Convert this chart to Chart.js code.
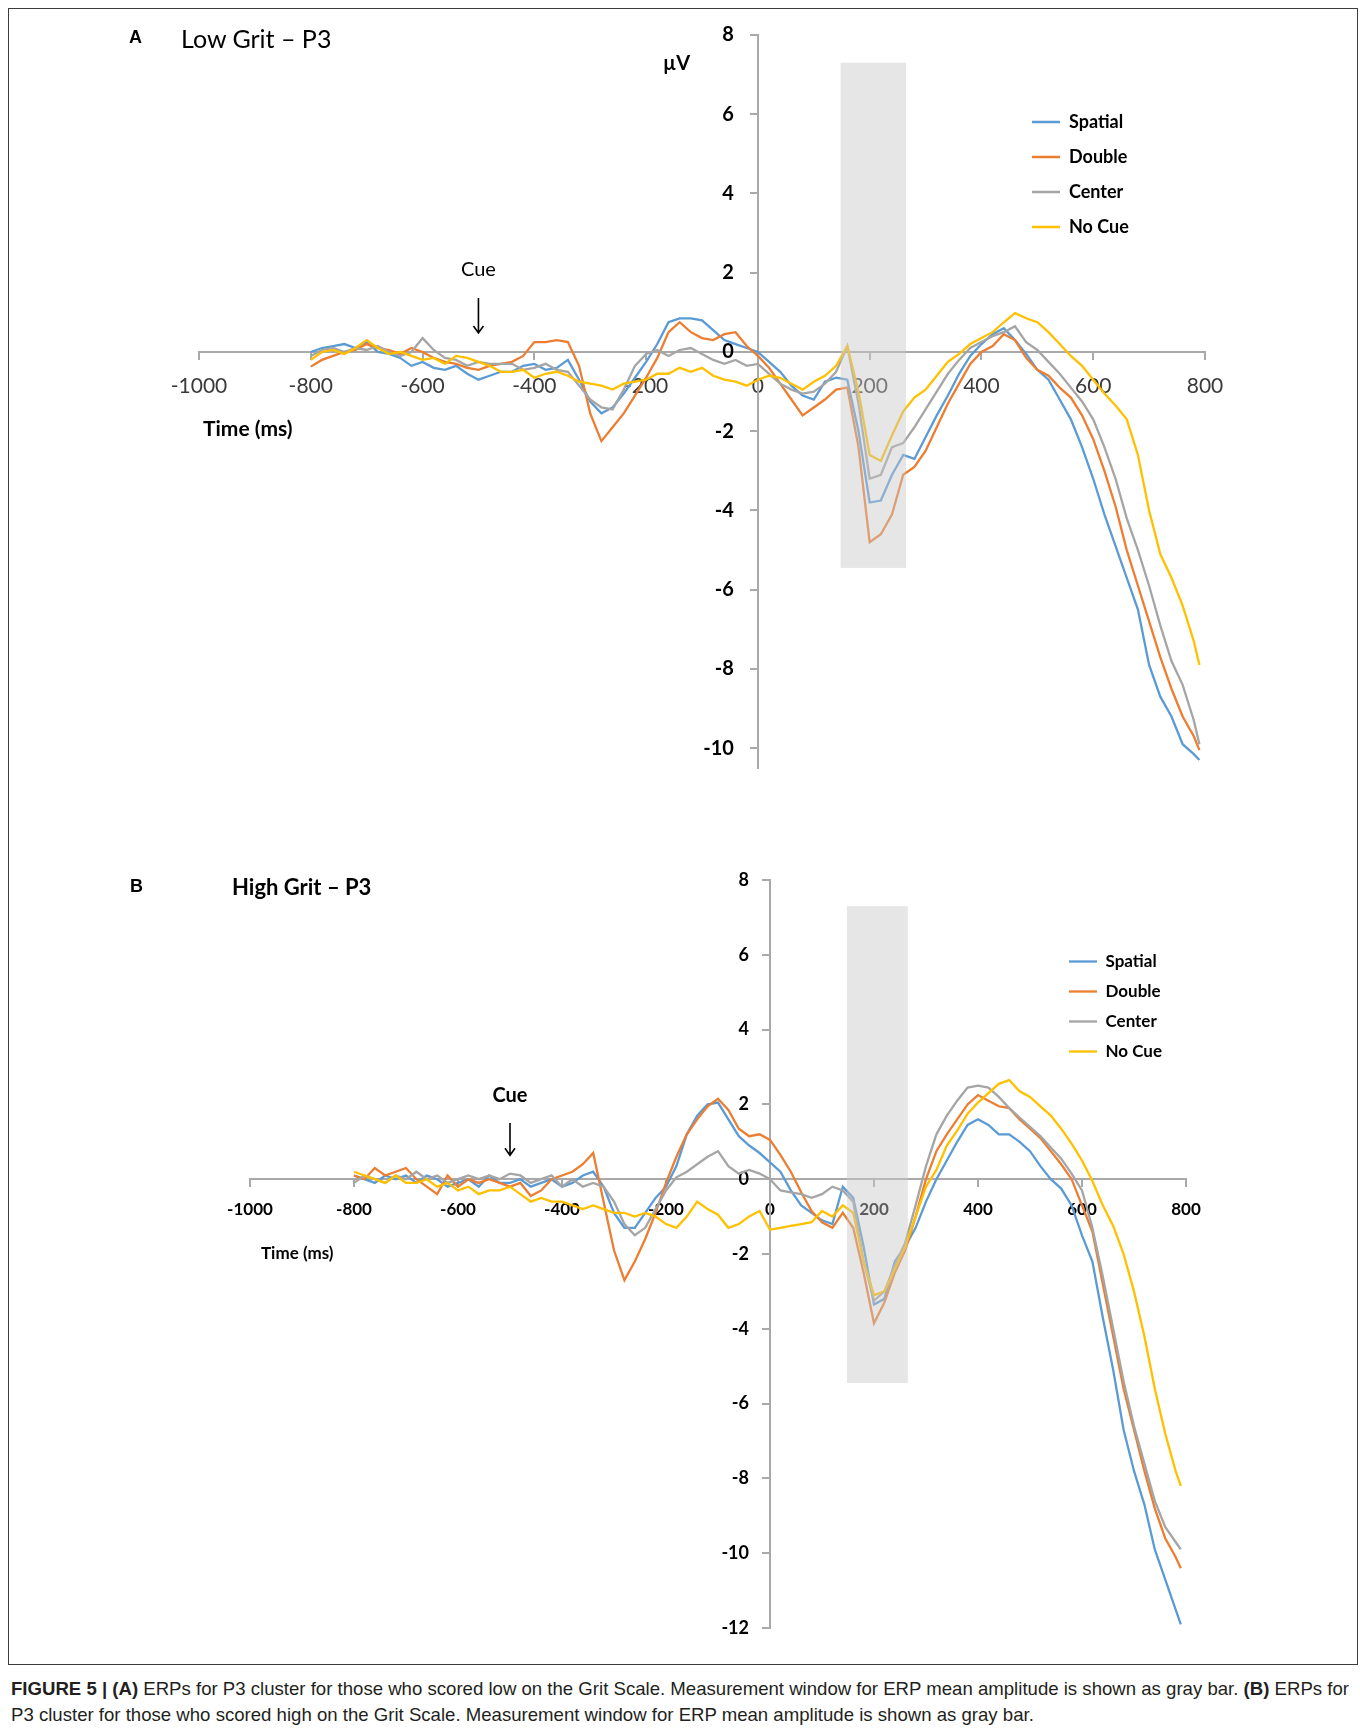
<!DOCTYPE html>
<html>
<head>
<meta charset="utf-8">
<script src="https://cdn.jsdelivr.net/npm/chart.js@4.4.1/dist/chart.umd.min.js"></script>
<style>
  html, body { margin: 0; padding: 0; background: #fff; }
  #page { position: relative; width: 1360px; height: 1733px; overflow: hidden; font-family: Lato, "Open Sans", sans-serif; color: #000; }
  #frame { position: absolute; left: 8px; top: 8px; width: 1350px; height: 1657px; border: 1px solid #3c3c3c; box-sizing: border-box; }
  .t { position: absolute; white-space: nowrap; line-height: 1.2; transform: translateY(-50%); }
  #cvA { position: absolute; left: 0; top: 0; }
  #cvB { position: absolute; left: 0; top: 840px; }
  #caption { position: absolute; left: 11px; top: 1676px; font-family: "Liberation Sans", Arial, sans-serif; font-size: 18.6px; line-height: 26px; color: #231f20; white-space: nowrap; }
</style>
</head>
<body>
<div id="page">
  <div id="frame"></div>
  <canvas id="cvA" width="1360" height="840"></canvas>
  <canvas id="cvB" width="1360" height="820"></canvas>

  <div class="t" style="left:129px;top:38px;font-family:'Liberation Sans',Arial,sans-serif;font-weight:bold;font-size:18px;">A</div>
  <div class="t" style="left:181px;top:38px;font-size:25px;">Low Grit – P3</div>
  <div class="t" style="left:663px;top:62px;font-size:20px;font-weight:bold;">µV</div>
  <div class="t" style="left:203px;top:428px;font-size:21px;font-weight:bold;">Time (ms)</div>

  <div class="t" style="left:130px;top:887px;font-family:'Liberation Sans',Arial,sans-serif;font-weight:bold;font-size:18px;">B</div>
  <div class="t" style="left:232px;top:887px;font-size:22px;font-weight:bold;">High Grit – P3</div>
  <div class="t" style="left:261px;top:1253px;font-size:17px;font-weight:bold;">Time (ms)</div>

  <div id="caption"><b>FIGURE 5 | (A)</b> ERPs for P3 cluster for those who scored low on the Grit Scale. Measurement window for ERP mean amplitude is shown as gray bar. <b>(B)</b> ERPs for<br>P3 cluster for those who scored high on the Grit Scale. Measurement window for ERP mean amplitude is shown as gray bar.</div>
</div>

<script>
// Sample times (ms, relative to target onset)
const times = [
  -800,-780,-760,-740,-720,-700,-680,-660,-640,-620,
  -600,-580,-560,-540,-520,-500,-480,-460,-440,-420,
  -400,-380,-360,-340,-320,-300,-280,-260,-240,-220,
  -200,-180,-160,-140,-120,-100,-80,-60,-40,-20,
  0,20,40,60,80,100,120,140,160,180,
  200,220,240,260,280,300,320,340,360,380,
  400,420,440,460,480,500,520,540,560,580,
  600,620,640,660,680,700,720,740,760,780,
  790
];

const seriesNames = ['Spatial', 'Double', 'Center', 'No Cue'];
const seriesColors = ['#5B9BD5', '#ED7D31', '#A5A5A5', '#FFC000'];

// Low Grit group, P3 cluster (µV)
const lowSpatial = [
  0.0, 0.1, 0.15, 0.2, 0.1, 0.25, 0.0, -0.05, -0.15, -0.35,
  -0.25, -0.4, -0.45, -0.35, -0.55, -0.7, -0.6, -0.5, -0.5, -0.35,
  -0.3, -0.45, -0.4, -0.2, -0.7, -1.25, -1.55, -1.4, -1.05, -0.65,
  -0.25, 0.2, 0.75, 0.85, 0.85, 0.8, 0.55, 0.3, 0.2, 0.1,
  0.0, -0.25, -0.5, -0.85, -1.1, -1.2, -0.75, -0.65, -0.7, -2.0,
  -3.8, -3.75, -3.1, -2.6, -2.7, -2.15, -1.6, -1.1, -0.55, -0.1,
  0.2, 0.45, 0.6, 0.3, -0.05, -0.45, -0.7, -1.2, -1.7, -2.4,
  -3.2, -4.1, -4.9, -5.7, -6.5, -7.9, -8.7, -9.2, -9.9, -10.15,
  -10.3
];
const lowDouble = [
  -0.37, -0.2, -0.1, 0.0, 0.05, 0.2, 0.1, 0.05, -0.05, 0.1,
  0.0, -0.15, -0.25, -0.3, -0.4, -0.45, -0.35, -0.3, -0.25, -0.1,
  0.25, 0.25, 0.3, 0.25, -0.35, -1.55, -2.25, -1.9, -1.55, -1.1,
  -0.65, -0.15, 0.5, 0.75, 0.5, 0.35, 0.3, 0.45, 0.5, 0.15,
  -0.1, -0.4, -0.8, -1.2, -1.6, -1.4, -1.2, -0.95, -0.9, -2.4,
  -4.8, -4.6, -4.1, -3.1, -2.9, -2.5, -1.9, -1.3, -0.8, -0.3,
  0.0, 0.15, 0.45, 0.3, -0.15, -0.45, -0.6, -0.9, -1.15, -1.6,
  -2.2, -3.0, -3.9, -5.0, -5.9, -6.8, -7.7, -8.5, -9.2, -9.7,
  -10.05
];
const lowCenter = [
  -0.1, 0.05, 0.1, 0.0, 0.1, 0.05, 0.15, 0.0, -0.1, 0.0,
  0.35, 0.05, -0.15, -0.2, -0.35, -0.25, -0.3, -0.3, -0.3, -0.45,
  -0.4, -0.3, -0.45, -0.5, -0.85, -1.2, -1.4, -1.45, -0.95, -0.35,
  -0.05, 0.05, -0.1, 0.05, 0.1, -0.05, -0.2, -0.3, -0.2, -0.35,
  -0.3, -0.55, -0.8, -0.95, -1.05, -1.0, -0.8, -0.5, 0.15, -1.3,
  -3.2, -3.1, -2.4, -2.3, -1.9, -1.45, -1.0, -0.55, -0.2, 0.1,
  0.25, 0.4, 0.5, 0.65, 0.25, 0.05, -0.25, -0.55, -0.9, -1.25,
  -1.7, -2.4, -3.2, -4.2, -5.0, -5.9, -6.9, -7.8, -8.4, -9.3,
  -9.9
];
const lowNoCue = [
  -0.2, 0.0, 0.05, -0.05, 0.1, 0.3, 0.1, -0.05, 0.0, -0.1,
  -0.2, -0.15, -0.3, -0.1, -0.15, -0.25, -0.35, -0.5, -0.5, -0.45,
  -0.65, -0.55, -0.5, -0.6, -0.75, -0.8, -0.85, -0.95, -0.8, -0.75,
  -0.7, -0.55, -0.55, -0.4, -0.5, -0.4, -0.6, -0.7, -0.75, -0.85,
  -0.7, -0.6, -0.65, -0.8, -0.95, -0.75, -0.6, -0.35, 0.15, -1.0,
  -2.6, -2.75, -2.1, -1.5, -1.15, -0.95, -0.6, -0.25, -0.05, 0.2,
  0.35, 0.5, 0.75, 0.98, 0.85, 0.75, 0.5, 0.2, -0.1, -0.35,
  -0.7, -1.05, -1.35, -1.7, -2.6, -4.0, -5.1, -5.7, -6.4, -7.3,
  -7.9
];

// High Grit group, P3 cluster (µV)
const highSpatial = [
  0.1, 0.0, -0.1, 0.1, 0.0, 0.1, -0.1, 0.1, 0.0, -0.2,
  -0.1, 0.0, -0.2, 0.1, -0.1, -0.1, 0.0, -0.2, -0.1, 0.0,
  -0.2, -0.1, 0.1, 0.2, -0.2, -0.9, -1.3, -1.3, -0.9, -0.5,
  -0.2, 0.35, 1.2, 1.7, 2.0, 2.05, 1.6, 1.15, 0.9, 0.7,
  0.45, 0.2, -0.3, -0.7, -0.9, -1.1, -1.2, -0.2, -0.5, -1.8,
  -3.35, -3.2, -2.2, -1.8, -1.3, -0.6, 0.0, 0.5, 1.0, 1.45,
  1.6, 1.45, 1.2, 1.2, 1.0, 0.75, 0.35, 0.0, -0.25, -0.7,
  -1.5, -2.2, -3.7, -5.1, -6.7, -7.8, -8.7, -9.9, -10.7, -11.5,
  -11.9
];
const highDouble = [
  0.1, 0.0, 0.3, 0.1, 0.2, 0.3, 0.0, -0.2, -0.4, 0.1,
  -0.2, 0.0, -0.1, 0.0, -0.1, -0.2, -0.1, -0.45, -0.3, 0.0,
  0.1, 0.2, 0.4, 0.7, -0.6, -1.9, -2.7, -2.2, -1.6, -0.9,
  -0.1, 0.6, 1.2, 1.6, 1.95, 2.15, 1.85, 1.35, 1.15, 1.2,
  1.05, 0.65, 0.2, -0.35, -0.85, -1.15, -1.3, -0.9, -1.3, -2.5,
  -3.85, -3.3, -2.5, -1.9, -1.0, 0.0, 0.75, 1.2, 1.6, 2.0,
  2.25, 2.1, 1.95, 1.9, 1.6, 1.35, 1.1, 0.75, 0.4, 0.0,
  -0.7, -1.4, -2.8, -4.2, -5.6, -6.7, -7.8, -8.8, -9.6, -10.1,
  -10.4
];
const highCenter = [
  -0.1, 0.1, 0.0, -0.1, 0.1, 0.0, 0.2, 0.0, 0.1, -0.1,
  0.0, 0.1, 0.0, 0.1, 0.0, 0.15, 0.1, -0.1, 0.0, 0.1,
  -0.2, 0.0, -0.2, -0.1, -0.2, -0.6, -1.2, -1.5, -1.3, -0.8,
  -0.3, 0.05, 0.2, 0.4, 0.6, 0.75, 0.35, 0.15, 0.25, 0.15,
  0.0, -0.3, -0.35, -0.4, -0.5, -0.4, -0.2, -0.3, -0.6, -2.2,
  -3.25, -3.0, -2.3, -1.7, -0.7, 0.35, 1.2, 1.7, 2.1, 2.45,
  2.5, 2.45, 2.2, 1.9, 1.65, 1.4, 1.15, 0.85, 0.55, 0.15,
  -0.3, -1.3, -2.6, -4.0, -5.4, -6.6, -7.6, -8.6, -9.3, -9.7,
  -9.9
];
const highNoCue = [
  0.2, 0.1, 0.0, -0.1, 0.1, -0.1, -0.1, 0.0, -0.2, -0.1,
  -0.3, -0.2, -0.4, -0.3, -0.3, -0.2, -0.4, -0.6, -0.5, -0.6,
  -0.6, -0.7, -0.8, -0.7, -0.8, -0.9, -0.9, -1.0, -0.9, -1.0,
  -1.2, -1.3, -1.0, -0.6, -0.8, -0.95, -1.3, -1.2, -1.0, -0.85,
  -1.35, -1.3, -1.25, -1.2, -1.15, -0.85, -1.0, -0.7, -0.9, -2.2,
  -3.1, -3.0, -2.4, -1.8, -1.0, -0.2, 0.25, 0.9, 1.3, 1.75,
  2.05, 2.3, 2.55, 2.65, 2.35, 2.2, 1.95, 1.7, 1.35, 0.95,
  0.5, -0.05, -0.7, -1.25, -2.0, -3.0, -4.2, -5.6, -6.8, -7.8,
  -8.2
];

// Axis ranges and annotation settings
const timeRange = [-1000, 800];
const lowRange = [-10.5, 8];
const highRange = [-12, 8];
const measureWindow = [148, 265];        // ms
const measureWindowSpan = [-5.45, 7.3];  // µV
const cueTime = -500;

Chart.defaults.font.family = 'Lato, "Open Sans", sans-serif';
Chart.defaults.color = '#000';

const panelExtras = {
  id: 'panelExtras',
  afterLayout(chart, args, o) {
    const lg = chart.legend;
    if (!lg) return;
    lg.left = o.legendAt[0];
    lg.top = o.legendAt[1];
    lg.right = lg.left + lg.width;
    lg.bottom = lg.top + 400;
  },
  beforeDraw(chart, args, o) {
    const items = chart.scales.y.getLabelItems();
    if (!items._moved) {
      items.forEach(it => { it.options.translation[0] -= o.yLabelGap; });
      items._moved = true;
    }
  },
  afterDatasetsDraw(chart, args, o) {
    const { ctx, scales: { x, y } } = chart;
    ctx.save();
    // measurement window, laid over the waveforms
    const l = x.getPixelForValue(measureWindow[0]);
    const r = x.getPixelForValue(measureWindow[1]);
    const t = y.getPixelForValue(measureWindowSpan[1]);
    const b = y.getPixelForValue(measureWindowSpan[0]);
    ctx.fillStyle = 'rgba(200,200,200,0.45)';
    ctx.fillRect(l, t, r - l, b - t);

    // cue marker
    const cx = x.getPixelForValue(cueTime);
    ctx.fillStyle = '#000';
    ctx.font = o.cueFont;
    ctx.textAlign = 'center';
    ctx.textBaseline = 'middle';
    ctx.fillText('Cue', cx, y.getPixelForValue(o.cueText));
    const y1 = y.getPixelForValue(o.cueArrow[0]);
    const y2 = y.getPixelForValue(o.cueArrow[1]);
    ctx.strokeStyle = '#000';
    ctx.lineWidth = 1.6;
    ctx.beginPath();
    ctx.moveTo(cx, y1);
    ctx.lineTo(cx, y2);
    ctx.moveTo(cx - 5, y2 - 7);
    ctx.lineTo(cx, y2);
    ctx.lineTo(cx + 5, y2 - 7);
    ctx.stroke();
    ctx.restore();
  }
};

function buildPanel(canvasId, series, yRange, cfg) {
  const datasets = series.map((vals, i) => ({
    label: seriesNames[i],
    data: times.map((t, k) => ({ x: t, y: vals[k] })),
    borderColor: seriesColors[i],
    backgroundColor: seriesColors[i],
    borderWidth: 2.3,
    pointRadius: 0,
    tension: 0,
    fill: false,
    order: series.length - i
  }));

  return new Chart(document.getElementById(canvasId), {
    type: 'line',
    data: { datasets },
    plugins: [panelExtras],
    options: {
      responsive: false,
      animation: false,
      events: [],
      layout: { padding: cfg.padding },
      scales: {
        x: {
          type: 'linear',
          min: timeRange[0],
          max: timeRange[1],
          position: { y: 0 },
          grid: { drawOnChartArea: false, drawTicks: true, tickLength: 7, color: '#a9a9a9', lineWidth: 2 },
          border: { color: '#a9a9a9', width: 2 },
          ticks: {
            stepSize: 200,
            maxRotation: 0,
            autoSkip: false,
            padding: cfg.xPad,
            color: cfg.xColor,
            font: cfg.xFont,
            callback: v => String(v)
          }
        },
        y: {
          type: 'linear',
          min: yRange[0],
          max: yRange[1],
          position: { x: 0 },
          grid: { drawOnChartArea: false, drawTicks: true, tickLength: 7, color: '#a9a9a9', lineWidth: 2 },
          border: { color: '#a9a9a9', width: 2 },
          ticks: {
            stepSize: 2,
            includeBounds: false,
            color: '#000',
            font: cfg.yFont,
            callback: v => String(v)
          }
        }
      },
      plugins: {
        tooltip: { enabled: false },
        title: { display: false },
        legend: {
          display: true,
          position: 'chartArea',
          align: 'start',
          labels: {
            usePointStyle: true,
            pointStyle: 'line',
            pointStyleWidth: 28,
            padding: cfg.legendPad,
            color: '#000',
            font: cfg.legendFont,
            sort: (a, b) => a.datasetIndex - b.datasetIndex
          }
        },
        panelExtras: {
          legendAt: cfg.legendAt,
          yLabelGap: cfg.yLabelGap,
          cueFont: cfg.cueFont,
          cueText: cfg.cueText,
          cueArrow: cfg.cueArrow
        }
      }
    }
  });
}

buildPanel('cvA', [lowSpatial, lowDouble, lowCenter, lowNoCue], lowRange, {
  padding: { left: 199, right: 155, top: 35, bottom: 72 },
  xPad: 15,
  xColor: '#3a3a3a',
  xFont: { size: 21, weight: 'normal' },
  yFont: { size: 20, weight: 'bold' },
  yLabelGap: 24,
  legendPad: 17,
  legendFont: { size: 18, weight: 'bold' },
  legendAt: [1015, 96],
  cueFont: '20px Lato, "Open Sans", sans-serif',
  cueText: 2.07,
  cueArrow: [1.36, 0.48]
});

buildPanel('cvB', [highSpatial, highDouble, highCenter, highNoCue], highRange, {
  padding: { left: 250, right: 174, top: 40, bottom: 32 },
  xPad: 13,
  xColor: '#000',
  xFont: { size: 17, weight: 'bold' },
  yFont: { size: 18, weight: 'bold' },
  yLabelGap: 21,
  legendPad: 13,
  legendFont: { size: 17, weight: 'bold' },
  legendAt: [1056, 100],
  cueFont: 'bold 20px Lato, "Open Sans", sans-serif',
  cueText: 2.25,
  cueArrow: [1.5, 0.64]
});
</script>
</body>
</html>
